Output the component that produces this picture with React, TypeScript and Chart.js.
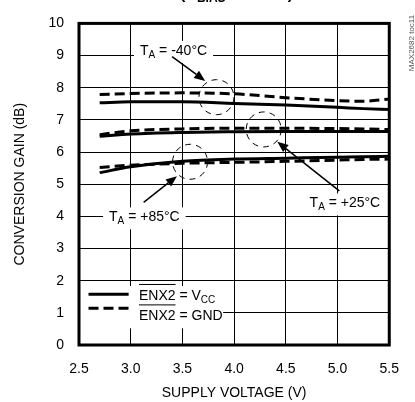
import React, { useEffect, useRef } from "react";
import { Chart, registerables } from "chart.js";

Chart.register(...registerables);

// ---- data ----
const voltages = [2.7, 3.0, 3.5, 4.0, 4.5, 5.0, 5.25, 5.5];
const gainM40Vcc = [7.53, 7.56, 7.56, 7.51, 7.46, 7.39, 7.35, 7.32];
const gainM40Gnd = [7.79, 7.82, 7.84, 7.81, 7.69, 7.60, 7.58, 7.65];
const gainP25Vcc = [6.49, 6.56, 6.61, 6.63, 6.64, 6.64, 6.64, 6.64];
const gainP25Gnd = [6.54, 6.66, 6.72, 6.74, 6.74, 6.73, 6.72, 6.70];
const gainP85Vcc = [5.36, 5.54, 5.71, 5.78, 5.81, 5.84, 5.85, 5.87];
const gainP85Gnd = [5.52, 5.59, 5.65, 5.68, 5.71, 5.75, 5.77, 5.78];

const xTicks = [2.5, 3.0, 3.5, 4.0, 4.5, 5.0, 5.5];
const yTicks = [0, 1, 2, 3, 4, 5, 6, 7, 8, 9, 10];

const xTitle = "SUPPLY VOLTAGE (V)";
const yTitle = "CONVERSION GAIN (dB)";
const sideNote = "MAX2682 toc11";

// annotations (in data units)
const tempLabels = [
  { text: "-40°C", x: 3.414, y: 9.02, tail: [3.40, 8.97], tip: [3.72, 8.21], circle: [3.829, 7.706] },
  { text: "+25°C", x: 5.071, y: 4.28, tail: [5.017, 4.79], tip: [4.417, 6.32], circle: [4.286, 6.703] },
  { text: "+85°C", x: 3.132, y: 3.844, tail: [3.125, 4.434], tip: [3.447, 5.251], circle: [3.574, 5.697] },
];

const FONT = '"Liberation Sans", Arial, sans-serif';
const FS = 14;
const SUBFS = 10;

const toPts = (ys: number[]) => voltages.map((x, i) => ({ x, y: ys[i] }));

type Part = { t: string; sub?: boolean };

function richWidth(ctx: CanvasRenderingContext2D, parts: Part[], size: number, subSize: number) {
  let w = 0;
  for (const p of parts) {
    ctx.font = `${p.sub ? subSize : size}px ${FONT}`;
    w += ctx.measureText(p.t).width;
  }
  return w;
}

function drawRich(
  ctx: CanvasRenderingContext2D,
  parts: Part[],
  x: number,
  baseline: number,
  size: number,
  subSize: number,
  weight = "normal"
) {
  let cx = x;
  ctx.textBaseline = "alphabetic";
  ctx.textAlign = "left";
  for (const p of parts) {
    ctx.font = `${weight} ${p.sub ? subSize : size}px ${FONT}`;
    ctx.fillText(p.t, cx, p.sub ? baseline + 3 : baseline);
    cx += ctx.measureText(p.t).width;
  }
  return cx;
}

function arrow(ctx: CanvasRenderingContext2D, x1: number, y1: number, x2: number, y2: number) {
  const ang = Math.atan2(y2 - y1, x2 - x1);
  const hl = 11;
  const hw = 4.5;
  const bx = x2 - hl * Math.cos(ang);
  const by = y2 - hl * Math.sin(ang);
  ctx.beginPath();
  ctx.moveTo(x1, y1);
  ctx.lineTo(bx, by);
  ctx.lineWidth = 1.5;
  ctx.strokeStyle = "#000";
  ctx.setLineDash([]);
  ctx.stroke();
  ctx.beginPath();
  ctx.moveTo(x2, y2);
  ctx.lineTo(bx + hw * Math.sin(ang), by - hw * Math.cos(ang));
  ctx.lineTo(bx - hw * Math.sin(ang), by + hw * Math.cos(ang));
  ctx.closePath();
  ctx.fillStyle = "#000";
  ctx.fill();
}

const labelParts = (t: string): Part[] => [{ t: "T" }, { t: "A", sub: true }, { t: " = " + t }];

const annotationPlugin = {
  id: "annot",
  beforeDatasetsDraw(chart: any) {
    const { ctx, scales } = chart;
    const xs = scales.x;
    const ys = scales.y;
    ctx.save();
    ctx.fillStyle = "#fff";
    for (const l of tempLabels) {
      const w = richWidth(ctx, labelParts(l.text), FS, SUBFS);
      const px = xs.getPixelForValue(l.x);
      const py = ys.getPixelForValue(l.y);
      ctx.fillRect(px - w / 2 - 6, py - 14, w + 12, 22);
    }
    const lx0 = xs.getPixelForValue(2.5);
    const lx1 = xs.getPixelForValue(3.894);
    const ly0 = ys.getPixelForValue(1.835);
    const ly1 = ys.getPixelForValue(0.52);
    ctx.fillRect(lx0, ly0, lx1 - lx0, ly1 - ly0);
    ctx.restore();
  },
  afterDraw(chart: any) {
    const { ctx, scales, chartArea } = chart;
    const xs = scales.x;
    const ys = scales.y;
    ctx.save();

    // frame
    ctx.strokeStyle = "#000";
    ctx.lineWidth = 3;
    ctx.setLineDash([]);
    ctx.strokeRect(chartArea.left, chartArea.top, chartArea.right - chartArea.left, chartArea.bottom - chartArea.top);

    // circles
    for (const l of tempLabels) {
      ctx.beginPath();
      ctx.setLineDash([6, 5]);
      ctx.lineWidth = 1;
      ctx.strokeStyle = "#000";
      ctx.arc(xs.getPixelForValue(l.circle[0]), ys.getPixelForValue(l.circle[1]), 17.5, 0, Math.PI * 2);
      ctx.stroke();
    }
    ctx.setLineDash([]);

    // arrows
    for (const l of tempLabels) {
      arrow(
        ctx,
        xs.getPixelForValue(l.tail[0]),
        ys.getPixelForValue(l.tail[1]),
        xs.getPixelForValue(l.tip[0]),
        ys.getPixelForValue(l.tip[1])
      );
    }

    // labels
    ctx.fillStyle = "#000";
    for (const l of tempLabels) {
      const parts = labelParts(l.text);
      const w = richWidth(ctx, parts, FS, SUBFS);
      const px = xs.getPixelForValue(l.x);
      const py = ys.getPixelForValue(l.y);
      drawRich(ctx, parts, px - w / 2, py, FS, SUBFS);
    }

    // legend
    const sx0 = xs.getPixelForValue(2.592);
    const sx1 = xs.getPixelForValue(2.98);
    const s1y = ys.getPixelForValue(1.58);
    const s2y = ys.getPixelForValue(1.14);
    ctx.lineWidth = 3;
    ctx.strokeStyle = "#000";
    ctx.beginPath();
    ctx.moveTo(sx0, s1y);
    ctx.lineTo(sx1, s1y);
    ctx.stroke();
    ctx.setLineDash([10, 5]);
    ctx.beginPath();
    ctx.moveTo(sx0, s2y);
    ctx.lineTo(sx1, s2y);
    ctx.stroke();
    ctx.setLineDash([]);

    const tx = xs.getPixelForValue(3.08);
    const b1 = ys.getPixelForValue(1.40);
    const b2 = ys.getPixelForValue(0.765);
    const legendRows: Part[][] = [
      [{ t: "ENX2" }, { t: " = V" }, { t: "CC", sub: true }],
      [{ t: "ENX2" }, { t: " = GND" }],
    ];
    [b1, b2].forEach((b, i) => {
      drawRich(ctx, legendRows[i], tx, b, FS, SUBFS);
      ctx.font = `${FS}px ${FONT}`;
      const ow = ctx.measureText("ENX2").width;
      ctx.lineWidth = 1;
      ctx.beginPath();
      ctx.moveTo(tx, b - 15.5);
      ctx.lineTo(tx + ow, b - 15.5);
      ctx.stroke();
    });

    // side note (rotated)
    ctx.save();
    ctx.translate(412, 43);
    ctx.rotate(-Math.PI / 2);
    ctx.font = `8px ${FONT}`;
    ctx.fillStyle = "#555";
    ctx.textAlign = "center";
    ctx.textBaseline = "middle";
    ctx.fillText(sideNote, 0, 0);
    ctx.restore();

    // clipped title at the very top
    ctx.fillStyle = "#000";
    drawRich(
      ctx,
      [{ t: "(R" }, { t: "BIAS", sub: true }, { t: " = 1.2k\u03A9)" }],
      180,
      -1,
      16,
      12,
      "bold"
    );

    ctx.restore();
  },
};

export default function App() {
  const ref = useRef<HTMLCanvasElement | null>(null);

  useEffect(() => {
    if (!ref.current) return;
    const solid = (data: number[], label: string) => ({
      label,
      data: toPts(data),
      borderColor: "#000",
      borderWidth: 3,
      pointRadius: 0,
      fill: false,
      tension: 0.35,
      cubicInterpolationMode: "monotone" as const,
    });
    const dashed = (data: number[], label: string) => ({
      ...solid(data, label),
      borderDash: [10, 5],
    });

    const chart = new Chart(ref.current, {
      type: "line",
      data: {
        datasets: [
          solid(gainM40Vcc, "-40 VCC"),
          dashed(gainM40Gnd, "-40 GND"),
          solid(gainP25Vcc, "+25 VCC"),
          dashed(gainP25Gnd, "+25 GND"),
          solid(gainP85Vcc, "+85 VCC"),
          dashed(gainP85Gnd, "+85 GND"),
        ],
      },
      options: {
        responsive: false,
        animation: false,
        events: [],
        layout: { padding: { left: 0, top: 18, right: 11, bottom: 0 } },
        plugins: {
          legend: { display: false },
          tooltip: { enabled: false },
        },
        scales: {
          x: {
            type: "linear",
            min: 2.5,
            max: 5.5,
            afterBuildTicks: (s: any) => {
              s.ticks = xTicks.map((v) => ({ value: v }));
            },
            afterFit: (s: any) => {
              s.height = 57;
            },
            ticks: {
              autoSkip: false,
              maxRotation: 0,
              padding: 16,
              color: "#000",
              font: { family: FONT, size: FS },
              callback: (v: any) => Number(v).toFixed(1),
            },
            grid: { color: "#000", lineWidth: 1, drawTicks: false },
            border: { display: false },
            title: {
              display: true,
              text: xTitle,
              color: "#000",
              font: { family: FONT, size: FS },
              padding: { top: 0, bottom: 0 },
            },
          },
          y: {
            type: "linear",
            min: 0,
            max: 10,
            afterBuildTicks: (s: any) => {
              s.ticks = yTicks.map((v) => ({ value: v }));
            },
            afterFit: (s: any) => {
              s.width = 79;
            },
            ticks: {
              autoSkip: false,
              padding: 15,
              color: "#000",
              font: { family: FONT, size: FS },
              callback: (v: any) => String(v),
            },
            grid: { color: "#000", lineWidth: 1, drawTicks: false },
            border: { display: false },
            title: {
              display: true,
              text: yTitle,
              color: "#000",
              font: { family: FONT, size: FS },
              padding: { top: 12, bottom: 0 },
            },
          },
        },
      },
      plugins: [annotationPlugin],
    });
    return () => chart.destroy();
  }, []);

  return (
    <div style={{ position: "absolute", left: 0, top: 0, width: 415, height: 402, background: "#fff" }}>
      <canvas ref={ref} width={415} height={402} style={{ display: "block", width: 415, height: 402 }} />
    </div>
  );
}
